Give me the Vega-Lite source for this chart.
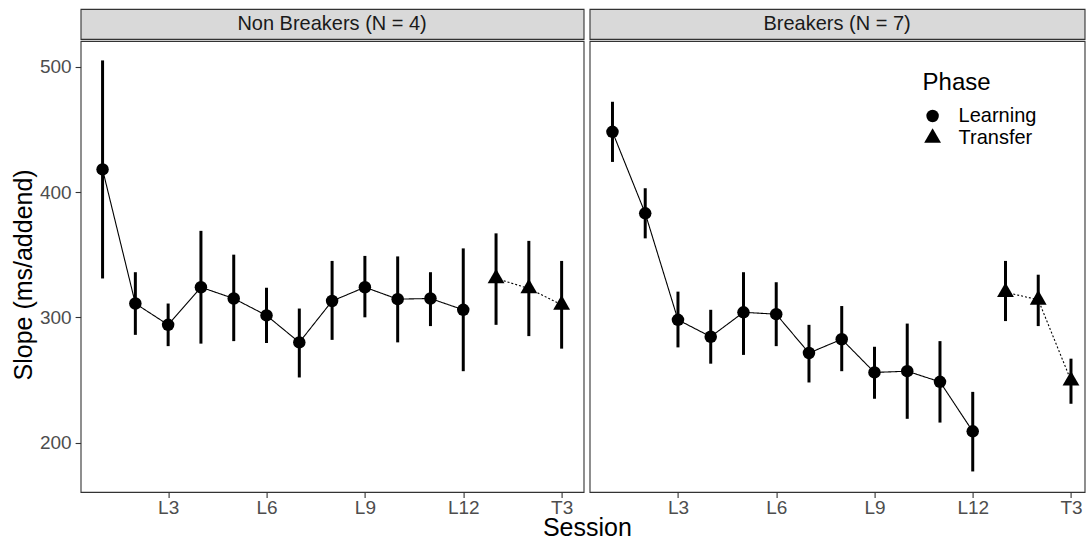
{
  "$schema": "https://vega.github.io/schema/vega-lite/v6.json",
  "padding": {"left": 10.6, "top": 8, "right": 0, "bottom": 0},
  "background": "white",
  "title": {"text": "Session", "orient": "bottom", "anchor": "middle", "frame": "group", "dx": 506.8, "offset": -2, "fontSize": 25, "fontWeight": "normal", "font": "Liberation Sans", "color": "black"},
  "config": {
    "font": "Liberation Sans",
    "view": {"stroke": "#333333", "strokeWidth": 1.1},
    "axis": {
      "labelFont": "Liberation Sans",
      "labelFontSize": 19,
      "labelColor": "#4d4d4d",
      "tickColor": "#333333",
      "tickSize": 5.5,
      "tickWidth": 1.1,
      "domain": false,
      "grid": false,
      "titleFont": "Liberation Sans",
      "titleFontSize": 25,
      "titleFontWeight": "normal",
      "titleColor": "black"
    },
    "legend": {
      "titleFont": "Liberation Sans",
      "titleFontSize": 24,
      "titleFontWeight": "normal",
      "titleColor": "black",
      "titlePadding": 11,
      "labelFont": "Liberation Sans",
      "labelFontSize": 20,
      "labelColor": "black",
      "symbolSize": 156,
      "symbolFillColor": "black",
      "symbolStrokeColor": "black",
      "symbolStrokeWidth": 0,
      "rowPadding": 2,
      "padding": 0
    }
  },
  "datasets": {
    "strips": [
      {"panel": "Non Breakers (N = 4)"},
      {"panel": "Breakers (N = 7)"}
    ],
    "d": [
      {"panel": "Non Breakers (N = 4)", "session": "L1", "idx": 1, "phase": "Learning", "slope": 418, "lo": 331, "hi": 505},
      {"panel": "Non Breakers (N = 4)", "session": "L2", "idx": 2, "phase": "Learning", "slope": 311, "lo": 286, "hi": 336},
      {"panel": "Non Breakers (N = 4)", "session": "L3", "idx": 3, "phase": "Learning", "slope": 294, "lo": 277, "hi": 311},
      {"panel": "Non Breakers (N = 4)", "session": "L4", "idx": 4, "phase": "Learning", "slope": 324, "lo": 279, "hi": 369},
      {"panel": "Non Breakers (N = 4)", "session": "L5", "idx": 5, "phase": "Learning", "slope": 315, "lo": 281, "hi": 350},
      {"panel": "Non Breakers (N = 4)", "session": "L6", "idx": 6, "phase": "Learning", "slope": 301.5, "lo": 279.5, "hi": 323.6},
      {"panel": "Non Breakers (N = 4)", "session": "L7", "idx": 7, "phase": "Learning", "slope": 280, "lo": 252, "hi": 307},
      {"panel": "Non Breakers (N = 4)", "session": "L8", "idx": 8, "phase": "Learning", "slope": 313, "lo": 282, "hi": 345},
      {"panel": "Non Breakers (N = 4)", "session": "L9", "idx": 9, "phase": "Learning", "slope": 324, "lo": 300, "hi": 349},
      {"panel": "Non Breakers (N = 4)", "session": "L10", "idx": 10, "phase": "Learning", "slope": 314.5, "lo": 280, "hi": 348.6},
      {"panel": "Non Breakers (N = 4)", "session": "L11", "idx": 11, "phase": "Learning", "slope": 315, "lo": 293, "hi": 336},
      {"panel": "Non Breakers (N = 4)", "session": "L12", "idx": 12, "phase": "Learning", "slope": 306, "lo": 257, "hi": 355},
      {"panel": "Non Breakers (N = 4)", "session": "T1", "idx": 13, "phase": "Transfer", "slope": 331, "lo": 294, "hi": 367},
      {"panel": "Non Breakers (N = 4)", "session": "T2", "idx": 14, "phase": "Transfer", "slope": 323, "lo": 285, "hi": 361},
      {"panel": "Non Breakers (N = 4)", "session": "T3", "idx": 15, "phase": "Transfer", "slope": 310, "lo": 275, "hi": 345},
      {"panel": "Breakers (N = 7)", "session": "L1", "idx": 1, "phase": "Learning", "slope": 448, "lo": 424, "hi": 472},
      {"panel": "Breakers (N = 7)", "session": "L2", "idx": 2, "phase": "Learning", "slope": 383, "lo": 363, "hi": 403},
      {"panel": "Breakers (N = 7)", "session": "L3", "idx": 3, "phase": "Learning", "slope": 298, "lo": 276, "hi": 320.5},
      {"panel": "Breakers (N = 7)", "session": "L4", "idx": 4, "phase": "Learning", "slope": 284.5, "lo": 263, "hi": 306},
      {"panel": "Breakers (N = 7)", "session": "L5", "idx": 5, "phase": "Learning", "slope": 304, "lo": 270, "hi": 336},
      {"panel": "Breakers (N = 7)", "session": "L6", "idx": 6, "phase": "Learning", "slope": 302.5, "lo": 277, "hi": 328},
      {"panel": "Breakers (N = 7)", "session": "L7", "idx": 7, "phase": "Learning", "slope": 271.5, "lo": 248, "hi": 294},
      {"panel": "Breakers (N = 7)", "session": "L8", "idx": 8, "phase": "Learning", "slope": 282.5, "lo": 257, "hi": 309},
      {"panel": "Breakers (N = 7)", "session": "L9", "idx": 9, "phase": "Learning", "slope": 256, "lo": 235, "hi": 276.5},
      {"panel": "Breakers (N = 7)", "session": "L10", "idx": 10, "phase": "Learning", "slope": 257, "lo": 219, "hi": 295},
      {"panel": "Breakers (N = 7)", "session": "L11", "idx": 11, "phase": "Learning", "slope": 248.5, "lo": 216, "hi": 281},
      {"panel": "Breakers (N = 7)", "session": "L12", "idx": 12, "phase": "Learning", "slope": 209, "lo": 177, "hi": 240.5},
      {"panel": "Breakers (N = 7)", "session": "T1", "idx": 13, "phase": "Transfer", "slope": 320, "lo": 297, "hi": 345},
      {"panel": "Breakers (N = 7)", "session": "T2", "idx": 14, "phase": "Transfer", "slope": 314, "lo": 293, "hi": 334},
      {"panel": "Breakers (N = 7)", "session": "T3", "idx": 15, "phase": "Transfer", "slope": 249.5, "lo": 231, "hi": 267}
    ]
  },
  "spacing": 4,
  "resolve": {"scale": {"shape": "independent", "strokeDash": "independent"}, "legend": {"shape": "independent", "strokeDash": "independent"}},
  "hconcat": [
    {
      "spacing": 0,
      "vconcat": [
        {
          "width": 503,
          "height": 30,
          "view": {"fill": "#d9d9d9", "stroke": "#333333", "strokeWidth": 1.1},
          "data": {"name": "strips"},
          "transform": [{"filter": "datum.panel === 'Non Breakers (N = 4)'"}],
          "mark": {"type": "text", "fontSize": 20, "color": "#1a1a1a", "font": "Liberation Sans"},
          "encoding": {"text": {"field": "panel", "type": "nominal"}}
        },
        {
          "width": 503,
          "height": 451,
          "data": {"name": "d"},
          "transform": [{"filter": "datum.panel === 'Non Breakers (N = 4)'"}],
          "encoding": {
            "x": {
              "field": "session", "type": "ordinal",
              "sort": ["L1","L2","L3","L4","L5","L6","L7","L8","L9","L10","L11","L12","T1","T2","T3"],
              "scale": {"type": "point", "padding": 0.67, "align": 0.5},
              "axis": {"values": ["L3","L6","L9","L12","T3"], "labelAngle": 0, "labelPadding": 1, "title": null}
            },
            "y": {
              "field": "slope", "type": "quantitative",
              "scale": {"domain": [160.6, 520.5], "nice": false, "zero": false},
              "axis": {"values": [200, 300, 400, 500], "labelPadding": 4, "title": "Slope (ms/addend)", "titleX": -49, "titleY": 233.4, "titleBaseline": "alphabetic", "titleAngle": 270, "titleAlign": "center"}
            }
          },
          "layer": [
            {
              "mark": {"type": "rule", "strokeWidth": 3, "color": "black"},
              "encoding": {"y": {"field": "lo", "type": "quantitative"}, "y2": {"field": "hi"}}
            },
            {
              "mark": {"type": "line", "strokeWidth": 1.1, "color": "black"},
              "encoding": {
                "order": {"field": "idx", "type": "quantitative"},
                "strokeDash": {"field": "phase", "type": "nominal", "scale": {"domain": ["Learning", "Transfer"], "range": [[1, 0], [2, 2]]}, "legend": null}
              }
            },
            {
              "mark": {"type": "point", "filled": true, "opacity": 1, "size": 156, "color": "black", "strokeWidth": 0},
              "encoding": {
                "shape": {"field": "phase", "type": "nominal", "scale": {"domain": ["Learning", "Transfer"], "range": ["circle", "M0,-1.555L1.347,0.778L-1.347,0.778Z"]}, "legend": null}
              }
            }
          ]
        }
      ]
    },
    {
      "spacing": 0,
      "resolve": {"scale": {"shape": "independent"}, "legend": {"shape": "independent"}},
      "vconcat": [
        {
          "width": 495,
          "height": 30,
          "view": {"fill": "#d9d9d9", "stroke": "#333333", "strokeWidth": 1.1},
          "data": {"name": "strips"},
          "transform": [{"filter": "datum.panel === 'Breakers (N = 7)'"}],
          "mark": {"type": "text", "fontSize": 20, "color": "#1a1a1a", "font": "Liberation Sans"},
          "encoding": {"text": {"field": "panel", "type": "nominal"}}
        },
        {
          "width": 495,
          "height": 451,
          "data": {"name": "d"},
          "transform": [{"filter": "datum.panel === 'Breakers (N = 7)'"}],
          "encoding": {
            "x": {
              "field": "session", "type": "ordinal",
              "sort": ["L1","L2","L3","L4","L5","L6","L7","L8","L9","L10","L11","L12","T1","T2","T3"],
              "scale": {"type": "point", "padding": 0.557, "align": 0.627},
              "axis": {"values": ["L3","L6","L9","L12","T3"], "labelAngle": 0, "labelPadding": 1, "title": null}
            },
            "y": {
              "field": "slope", "type": "quantitative",
              "scale": {"domain": [160.6, 520.5], "nice": false, "zero": false},
              "axis": null
            }
          },
          "layer": [
            {
              "mark": {"type": "rule", "strokeWidth": 3, "color": "black"},
              "encoding": {"y": {"field": "lo", "type": "quantitative"}, "y2": {"field": "hi"}}
            },
            {
              "mark": {"type": "line", "strokeWidth": 1.1, "color": "black"},
              "encoding": {
                "order": {"field": "idx", "type": "quantitative"},
                "strokeDash": {"field": "phase", "type": "nominal", "scale": {"domain": ["Learning", "Transfer"], "range": [[1, 0], [2, 2]]}, "legend": null}
              }
            },
            {
              "mark": {"type": "point", "filled": true, "opacity": 1, "size": 156, "color": "black", "strokeWidth": 0},
              "encoding": {
                "shape": {"field": "phase", "type": "nominal", "scale": {"domain": ["Learning", "Transfer"], "range": ["circle", "M0,-1.555L1.347,0.778L-1.347,0.778Z"]},
                  "legend": {"title": "Phase", "orient": "none", "legendX": 333, "legendY": 30, "labelOffset": 16}}
              }
            }
          ]
        }
      ]
    }
  ]
}
